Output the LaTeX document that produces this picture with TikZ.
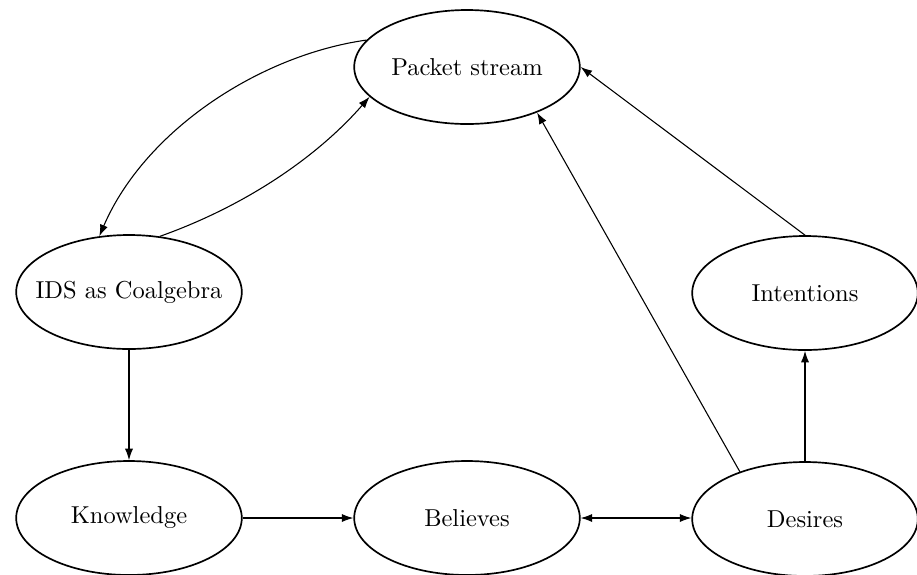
\documentclass[tikz,border=0pt]{standalone}
\usetikzlibrary{shapes.geometric,arrows.meta}
\newcommand{\nodetext}[1]{\makebox[0pt]{#1}}
\begin{document}
\begin{tikzpicture}[x=0.41667pt,y=-0.41667pt,
  state/.style={ellipse,draw,line width=0.7pt,minimum width=94pt,minimum height=47.5pt,inner sep=0pt,font=\fontsize{10.2}{12.2}\selectfont},
  tip/.tip={Latex[length=4.8pt,width=3.4pt]},
  conn/.style={line width=0.45pt,-tip},
  biconn/.style={line width=0.45pt,tip-tip}]
\useasboundingbox (0,0) rectangle (917,574);
\node[state] (ps) at (467,67) {\nodetext{Packet stream}};
\node[state] (ids) at (129,292) {\nodetext{IDS as Coalgebra}};
\node[state] (int) at (805,293) {\nodetext{Intentions}};
\node[state] (kn) at (129,518) {\nodetext{Knowledge}};
\node[state] (bel) at (467,518) {\nodetext{Believes}};
\node[state] (des) at (805,519) {\nodetext{Desires}};
\draw[conn] (ps.165) .. controls (260,55) and (145,130) .. (ids.118);
\draw[conn] (ids.61) .. controls (248,205) and (319,155) .. (ps.197);
\draw[conn] (ids) -- (kn);
\draw[conn] (kn) -- (bel);
\draw[biconn] (bel.east) -- (des.west |- bel.east);
\draw[conn] (des) -- (int);
\draw[conn] (des.144) -- (ps.-33);
\draw[conn] (int.north) -- (ps.east);
\end{tikzpicture}
\end{document}
